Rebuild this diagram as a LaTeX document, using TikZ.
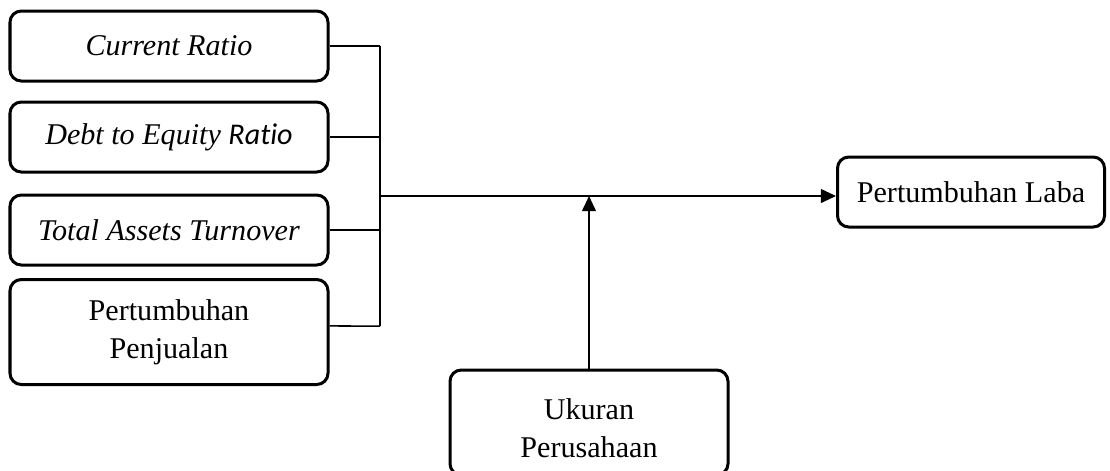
\documentclass[tikz,border=0pt]{standalone}
\usepackage{fontspec}
\setmainfont{Liberation Serif}
\newfontfamily\calibri[Ligatures=NoCommon]{Carlito}
\usetikzlibrary{arrows.meta}

\begin{document}
\begin{tikzpicture}[x=0.014cm,y=-0.014cm,
    box/.style={draw,line width=1.2pt,rounded corners=4.5pt,align=center,
      inner sep=0pt,font=\fontsize{12}{15}\selectfont},
    wire/.style={line width=0.6pt},
    arr/.style={wire,-{Triangle[length=6pt,width=5.5pt]}}]%
  \useasboundingbox (0,0) rectangle (1110,470);
  \pgfmathsetmacro{\w}{318*0.014}
  \pgfmathsetmacro{\h}{70*0.014}

  % variabel independen
  \node[box,minimum width=\w cm,minimum height=\h cm] (cr) at (169,46) {\textit{Current Ratio}};
  \node[box,minimum width=\w cm,minimum height=\h cm] (der) at (169,137)
       {\textit{Debt to Equity} {\calibri\itshape Ratio}};
  \node[box,minimum width=\w cm,minimum height=\h cm] (tato) at (169,230) {\textit{Total Assets Turnover}};
  \node[box,minimum width=\w cm,minimum height=105*0.014 cm] (pp) at (169,332) {Pertumbuhan\\Penjualan};

  % variabel dependen dan moderasi
  \node[box,minimum width=267*0.014 cm,minimum height=\h cm] (lab) at (971,192) {Pertumbuhan Laba};
  \node[box,minimum width=278*0.014 cm,minimum height=105*0.014 cm] (size) at (589,422.5)
       {\\[-2pt]Ukuran\\Perusahaan};

  \coordinate (top) at (380,46);
  \coordinate (bot) at (380,326);
  \coordinate (join) at (380,196);

  \draw[wire] (top) -- (bot);
  \foreach \n in {cr,der,tato}
  \draw[wire] (\n.east) -- (\n.east -| top);
  \draw[wire] ([yshift=2.4pt]pp.east) -- (bot);

  \draw[arr] (join) -- (join -| lab.west);
  \draw[arr] (size.north) -- (size.north |- join);
\end{tikzpicture}
\end{document}
